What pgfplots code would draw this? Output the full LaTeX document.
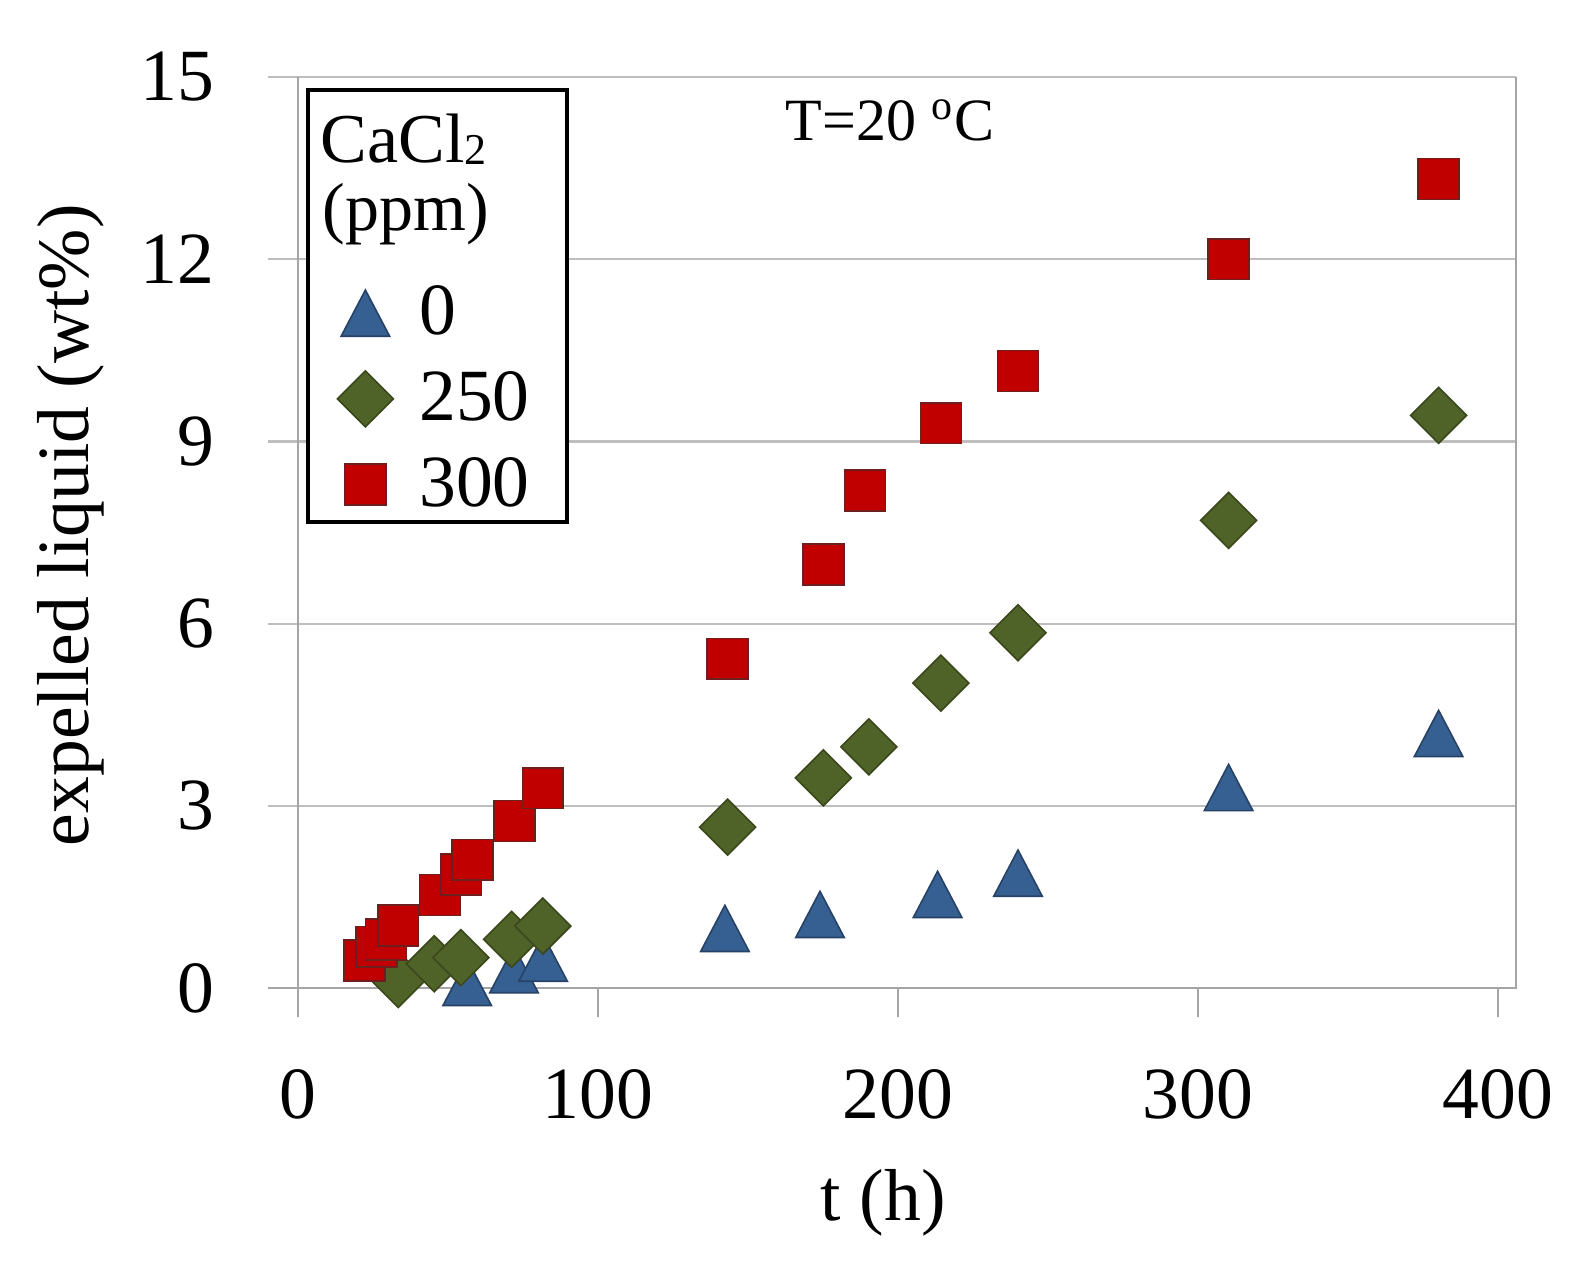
\documentclass[border=0pt]{standalone}
\usepackage{fontspec}
\setmainfont{Liberation Serif}
\usepackage{pgfplots}
\pgfplotsset{compat=1.18}

\definecolor{triblue}{RGB}{55,96,146}
\definecolor{triedge}{RGB}{38,66,102}
\definecolor{diagreen}{RGB}{79,98,40}
\definecolor{diaedge}{RGB}{58,72,28}
\definecolor{sqred}{RGB}{192,0,0}
\definecolor{sqedge}{RGB}{110,30,30}
\definecolor{gridgray}{RGB}{190,190,190}
\definecolor{framegray}{RGB}{165,165,165}

\begin{document}
\begin{tikzpicture}
\begin{axis}[
  scale only axis,
  width=312pt, height=227.75pt,
  xmin=-10, xmax=406, ymin=0, ymax=15,
  xtick={0,100,200,300,400},
  ytick={0,3,6,9,12,15},
  xtick pos=bottom, ytick pos=left,
  tick align=outside,
  major tick length=7.25pt,
  xtick style={framegray, line width=0.6pt},
  ytick style={draw=none},
  axis line style={draw=none},
  ymajorgrids,
  grid style={gridgray, line width=0.55pt},
  clip=false,
  /pgf/number format/assume math mode=true,
  tick label style={font=\fontsize{18.4}{22}\selectfont},
  xticklabel style={anchor=base, inner sep=0pt, yshift=-25.25pt},
  yticklabel style={anchor=east, inner sep=0pt, xshift=-6pt},
  xlabel={t (h)},
  ylabel={expelled liquid (wt\%)},
  label style={font=\fontsize{18.4}{22}\selectfont},
  xlabel style={at={(axis description cs:0.493,-0.255)}, anchor=base, inner sep=0pt},
  ylabel style={at={(axis description cs:-0.158,0.508)}, anchor=center, inner sep=0pt},
  legend style={at={(axis cs:45.2,9.7)}, anchor=center, draw=none, fill=none,
    font=\fontsize{18.4}{22}\selectfont, row sep=7.55pt,
    nodes={inner sep=0pt},
    /tikz/every odd column/.append style={column sep=6.5pt}},
  legend cell align=left,
  legend image code/.code={\draw[#1] plot coordinates {(0pt,0pt)};},
]
\coordinate (bbSW) at (axis cs:-99.333,-4.545);
\coordinate (bbNE) at (axis cs:428.333,16.268);
\draw[framegray, line width=0.6pt] (axis cs:-10,0) -- (axis cs:406,0) -- (axis cs:406,15);
\draw[framegray, line width=0.6pt] (axis cs:0,0) -- (axis cs:0,15);
% legend frame with white fill
\draw[black, line width=1pt, fill=white] (axis cs:3.33,14.79) rectangle (axis cs:89.67,7.67);

\addplot[only marks, mark=triangle*, mark size=7pt,
  mark options={yshift=-1.9pt, yscale=1.1, fill=triblue, draw=triedge, line width=0.4pt}]
  coordinates {(56.4,0.09) (72.0,0.30) (81.7,0.49) (142.3,0.98) (174.0,1.21)
    (213.2,1.54) (240.0,1.89) (310.2,3.30) (380.2,4.19)};
\addlegendentry{0}

\addplot[only marks, mark=square*, mark size=4.95pt,
  mark options={rotate=45, fill=diagreen, draw=diaedge, line width=0.4pt}]
  coordinates {(33.4,0.14) (45.4,0.40) (54.3,0.50) (71.2,0.80) (81.6,1.02)
    (143.2,2.65) (175.1,3.46) (190.3,3.97) (214.3,5.02) (240.0,5.85)
    (310.2,7.70) (380.2,9.43)};
\addlegendentry{250}

\addplot[only marks, mark=square*, mark size=5.1pt,
  mark options={fill=sqred, draw=sqedge, line width=0.4pt}]
  coordinates {(22.2,0.45) (26.1,0.68) (29.3,0.80) (33.4,1.03) (47.3,1.53)
    (54.4,1.87) (58.2,2.11) (72.2,2.75) (81.6,3.29) (143.2,5.42) (175.1,6.97)
    (189.0,8.19) (214.3,9.30) (240.0,10.16) (310.1,12.00) (380.2,13.32)};
\addlegendentry{300}

\node[anchor=base west, inner sep=0pt, font=\fontsize{17.5}{20}\selectfont]
  at (axis cs:7.33,13.6) {CaCl\raisebox{-0.5pt}{\fontsize{11}{12}\selectfont 2}};
\node[anchor=base west, inner sep=0pt, font=\fontsize{17}{20}\selectfont]
  at (axis cs:8.0,12.47) {(ppm)};
\node[font=\fontsize{15}{18}\selectfont] at (axis cs:197.3,14.29) {T=20 \textsuperscript{o}C};
\end{axis}
\pgfresetboundingbox
\path[use as bounding box] (bbSW) rectangle (bbNE);
\end{tikzpicture}
\end{document}
